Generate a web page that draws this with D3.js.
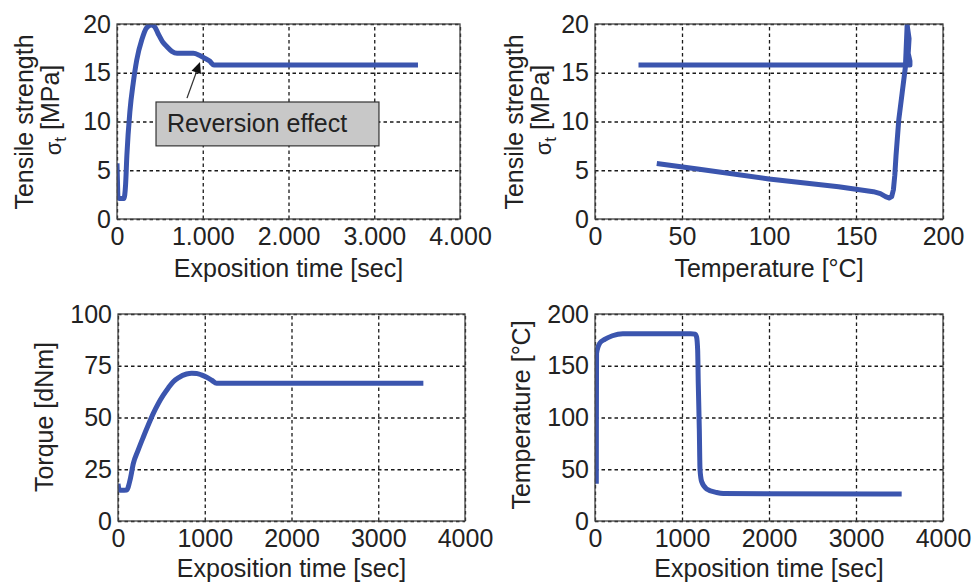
<!DOCTYPE html>
<html>
<head>
<meta charset="utf-8">
<script src="https://cdn.jsdelivr.net/npm/d3@7"></script>
<style>
  body { margin: 0; background: #fff; }
  text { font-family: "Liberation Sans", Arial, sans-serif; fill: #222; }
</style>
</head>
<body>
<div class="container"></div>
<script>
// data
var strengthTime = [0, 15, 30, 80, 100, 115, 150, 190, 230, 290, 345, 400, 440, 480, 530, 580, 640, 700, 890, 960, 1020, 1080, 1130, 3510];
var strengthByTime = [5.7, 2.2, 2.1, 2.1, 3.5, 6.5, 11, 14, 16.3, 18.4, 19.6, 19.9, 19.7, 19, 18.2, 17.7, 17.2, 17.0, 17, 16.8, 16.5, 16.2, 15.8, 15.8];

var strengthTemp = [35.5, 60, 100, 140, 160, 164, 167, 169, 170.5, 171.5, 172.3, 173, 174.6, 176.5, 178.4, 179.4, 180.5, 180, 181, 181, 25];
var strengthByTemp = [5.7, 5.1, 4.1, 3.3, 2.8, 2.6, 2.3, 2.15, 2.3, 3, 4.5, 6.5, 10.2, 12.9, 15.6, 19.9, 18.5, 17, 16.2, 15.8, 15.8];

var torqueTime = [0, 15, 40, 100, 140, 177, 230, 292, 350, 407, 465, 522, 580, 637, 700, 790, 850, 907, 960, 1022, 1080, 1137, 1200, 3520];
var torqueValues = [18, 15, 14.8, 15, 20, 27.8, 34, 40.6, 46.5, 52, 56.8, 60.8, 64.3, 67.3, 69.3, 71, 71.4, 71.3, 70.6, 69.4, 68, 66.5, 66.5, 66.5];

var tempTime = [15, 16, 18, 54, 111, 200, 320, 600, 1100, 1150, 1167, 1180, 1187, 1199, 1207, 1226, 1283, 1398, 1475, 3525];
var tempValues = [36, 100, 162, 171.7, 175.5, 179, 181, 181, 181, 180.5, 178, 165, 133, 89, 50, 38, 31, 27.5, 26.5, 26];

var timeTicks = [0, 1000, 2000, 3000, 4000];
var timeLabelsDot = ['0', '1.000', '2.000', '3.000', '4.000'];
var timeLabels = ['0', '1000', '2000', '3000', '4000'];
var tempTicks = [0, 50, 100, 150, 200];
var strengthTicks = [0, 5, 10, 15, 20];
var torqueTicks = [0, 25, 50, 75, 100];

// annotation in data units of the first panel
var noteText = 'Reversion effect';
var noteBox = [455, 3055, 12, 7.5];
var noteArrow = [816, 12.4, 968, 16.1];

var lineColor = '#3b55ae';

var svg = d3.select('.container').append('svg')
  .attr('width', 973)
  .attr('height', 582);

svg.append('rect').attr('width', 973).attr('height', 582).attr('fill', '#fff');

var panel = function(cfg) {
  var x = d3.scaleLinear().domain([cfg.xTicks[0], cfg.xTicks[cfg.xTicks.length - 1]]).range([cfg.left, cfg.right]);
  var y = d3.scaleLinear().domain([cfg.yTicks[0], cfg.yTicks[cfg.yTicks.length - 1]]).range([cfg.bottom, cfg.top]);
  var w = cfg.right - cfg.left, h = cfg.bottom - cfg.top;
  var g = svg.append('g');

  svg.append('clipPath').attr('id', 'clip-' + cfg.name)
    .append('rect').attr('x', cfg.left).attr('y', cfg.top).attr('width', w).attr('height', h);

  // dotted grid
  var gx = g.append('g').attr('transform', 'translate(0,' + cfg.bottom + ')')
    .call(d3.axisBottom(x).tickValues(cfg.xTicks).tickSize(-h).tickFormat(''));
  var gy = g.append('g').attr('transform', 'translate(' + cfg.left + ',0)')
    .call(d3.axisLeft(y).tickValues(cfg.yTicks).tickSize(-w).tickFormat(''));
  [gx, gy].forEach(function(a) {
    a.select('.domain').remove();
    a.selectAll('line').attr('stroke', '#1a1a1a').attr('stroke-width', 1.3).attr('stroke-dasharray', '3.5,3');
  });

  // curve
  var line = d3.line()
    .x(function(d) { return x(d[0]); })
    .y(function(d) { return y(d[1]); })
    .curve(cfg.curve);
  g.append('path')
    .datum(d3.zip(cfg.xs, cfg.ys))
    .attr('clip-path', 'url(#clip-' + cfg.name + ')')
    .attr('d', line)
    .attr('fill', 'none')
    .attr('stroke', lineColor)
    .attr('stroke-width', 5)
    .attr('stroke-linejoin', 'round');

  // frame
  g.append('rect')
    .attr('x', cfg.left).attr('y', cfg.top).attr('width', w).attr('height', h)
    .attr('fill', 'none').attr('stroke', '#444').attr('stroke-width', 1.3);

  // tick labels
  var ax = g.append('g').attr('transform', 'translate(0,' + cfg.bottom + ')')
    .call(d3.axisBottom(x).tickValues(cfg.xTicks).tickSize(0).tickPadding(8)
      .tickFormat(function(d, i) { return cfg.xLabels[i]; }));
  var ay = g.append('g').attr('transform', 'translate(' + cfg.left + ',0)')
    .call(d3.axisLeft(y).tickValues(cfg.yTicks).tickSize(0).tickPadding(6));
  [ax, ay].forEach(function(a) {
    a.select('.domain').remove();
    a.attr('font-family', null).attr('font-size', null);
    a.selectAll('text').attr('font-size', 25).attr('fill', '#222');
  });

  // axis titles
  g.append('text')
    .attr('x', (cfg.left + cfg.right) / 2)
    .attr('y', cfg.bottom + cfg.xTitleGap)
    .attr('text-anchor', 'middle')
    .attr('font-size', 25)
    .text(cfg.xTitle);

  cfg.yTitle.forEach(function(t, i) {
    var tx = g.append('text')
      .attr('transform', 'translate(' + cfg.yTitleX[i] + ',' + cfg.yTitleY[i] + ') rotate(-90)')
      .attr('text-anchor', 'middle')
      .attr('font-size', 25);
    if (t === 'sigma') {
      tx.append('tspan').attr('font-size', 22).text('σ');
      tx.append('tspan').attr('dy', '0.3em').attr('font-size', 17).text('t');
      tx.append('tspan').attr('dy', '-0.3em').text(' [MPa]');
    } else {
      tx.text(t);
    }
  });

  return {x: x, y: y, g: g};
};

var p1 = panel({
  name: 'a', left: 117, right: 460, top: 24, bottom: 219,
  xTicks: timeTicks, xLabels: timeLabelsDot, yTicks: strengthTicks,
  xs: strengthTime, ys: strengthByTime, curve: d3.curveMonotoneX,
  xTitle: 'Exposition time [sec]', xTitleGap: 58,
  yTitle: ['Tensile strength', 'sigma'], yTitleX: [33, 61], yTitleY: [122, 110]
});

panel({
  name: 'b', left: 595, right: 943, top: 24, bottom: 219,
  xTicks: tempTicks, xLabels: tempTicks.map(String), yTicks: strengthTicks,
  xs: strengthTemp, ys: strengthByTemp, curve: d3.curveLinear,
  xTitle: 'Temperature [°C]', xTitleGap: 58,
  yTitle: ['Tensile strength', 'sigma'], yTitleX: [523, 551], yTitleY: [122, 110]
});

panel({
  name: 'c', left: 118, right: 465, top: 314, bottom: 521,
  xTicks: timeTicks, xLabels: timeLabels, yTicks: torqueTicks,
  xs: torqueTime, ys: torqueValues, curve: d3.curveMonotoneX,
  xTitle: 'Exposition time [sec]', xTitleGap: 56,
  yTitle: ['Torque [dNm]'], yTitleX: [53], yTitleY: [417]
});

panel({
  name: 'd', left: 595, right: 943, top: 314, bottom: 521,
  xTicks: timeTicks, xLabels: timeLabels, yTicks: tempTicks,
  xs: tempTime, ys: tempValues, curve: d3.curveMonotoneX,
  xTitle: 'Exposition time [sec]', xTitleGap: 56,
  yTitle: ['Temperature [°C]'], yTitleX: [530], yTitleY: [415]
});

// reversion effect callout
var ax1 = p1.x(noteArrow[0]), ay1 = p1.y(noteArrow[1]);
var ax2 = p1.x(noteArrow[2]), ay2 = p1.y(noteArrow[3]);
var ang = Math.atan2(ay2 - ay1, ax2 - ax1);
var headLen = 11, headW = 5;
p1.g.append('line')
  .attr('x1', ax1).attr('y1', ay1)
  .attr('x2', ax2 - Math.cos(ang) * headLen).attr('y2', ay2 - Math.sin(ang) * headLen)
  .attr('stroke', '#333').attr('stroke-width', 1.3);
p1.g.append('path')
  .attr('d', 'M' + ax2 + ',' + ay2 +
    'L' + (ax2 - Math.cos(ang) * headLen - Math.sin(ang) * headW) + ',' + (ay2 - Math.sin(ang) * headLen + Math.cos(ang) * headW) +
    'L' + (ax2 - Math.cos(ang) * headLen + Math.sin(ang) * headW) + ',' + (ay2 - Math.sin(ang) * headLen - Math.cos(ang) * headW) + 'Z')
  .attr('fill', '#111');

p1.g.append('rect')
  .attr('x', p1.x(noteBox[0])).attr('y', p1.y(noteBox[2]))
  .attr('width', p1.x(noteBox[1]) - p1.x(noteBox[0]))
  .attr('height', p1.y(noteBox[3]) - p1.y(noteBox[2]))
  .attr('fill', '#c8c8c8').attr('stroke', '#333').attr('stroke-width', 1.2);
p1.g.append('text')
  .attr('x', p1.x(583)).attr('y', p1.y(8.95))
  .attr('font-size', 25)
  .text(noteText);
</script>
</body>
</html>
